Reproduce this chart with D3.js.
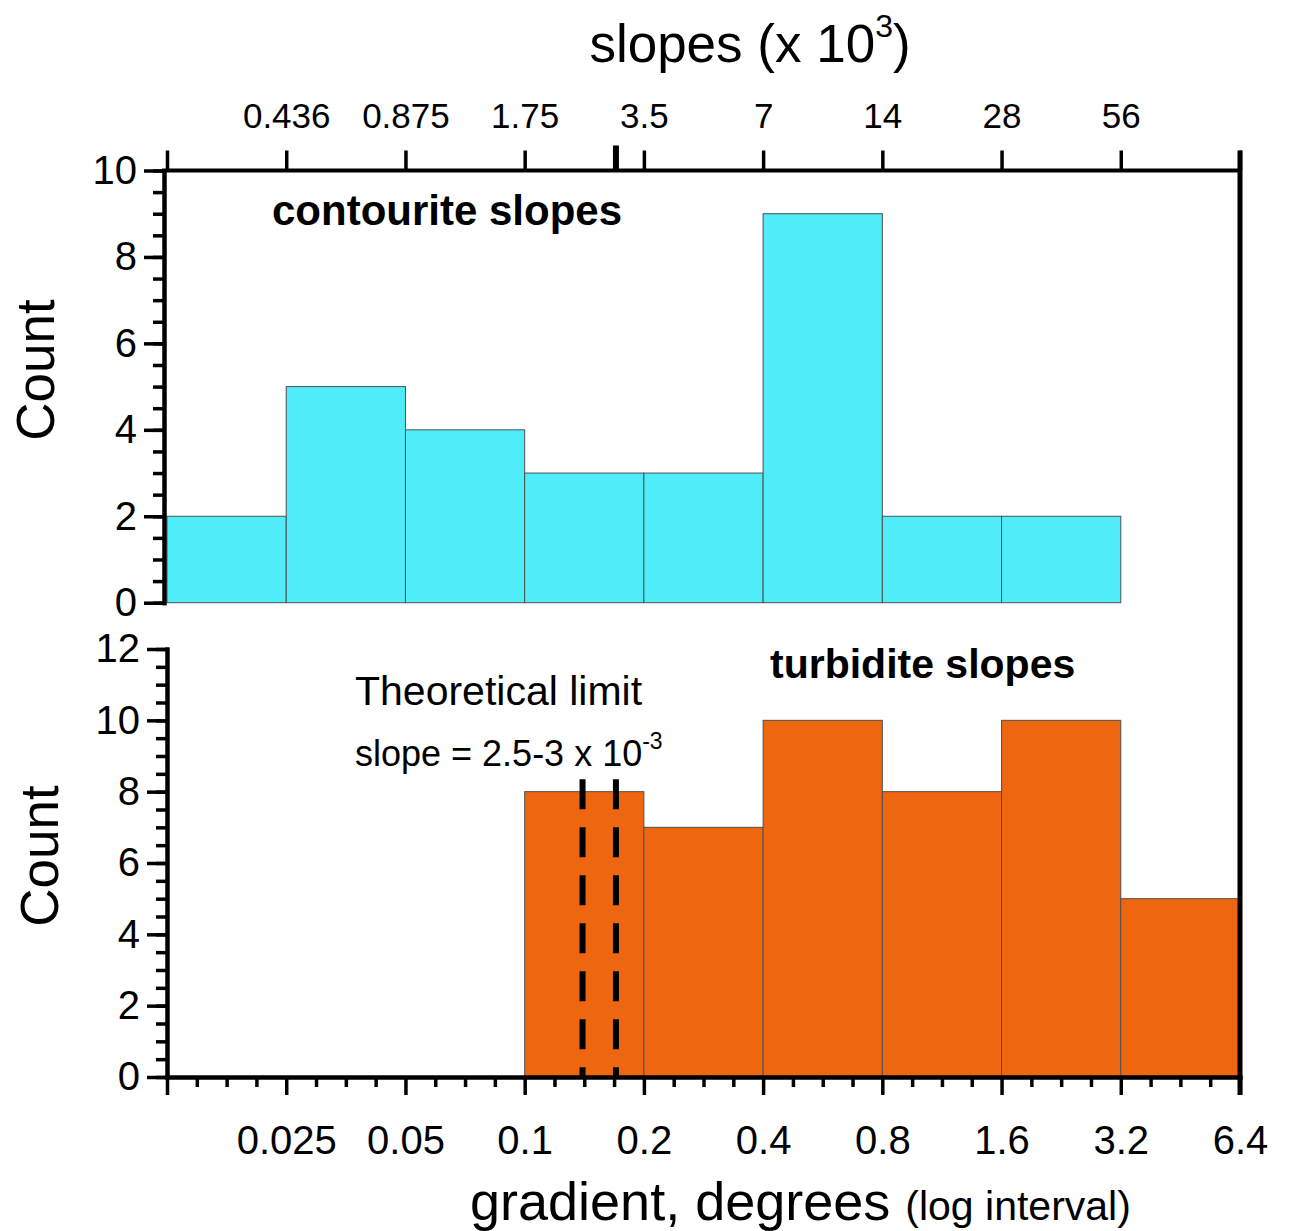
<!DOCTYPE html>
<meta charset="utf-8">
<script src="https://d3js.org/d3.v7.min.js"></script>
<style>
  body { margin: 0; background: #fff; }
  text { font-family: "Liberation Sans", Arial, sans-serif; fill: #000; }
</style>
<body>
<div id="my_dataviz"></div>

<script>
// bin edges (degrees, log2 intervals) and counts per bin
var edges = [0.0125, 0.025, 0.05, 0.1, 0.2, 0.4, 0.8, 1.6, 3.2, 6.4];
var contouriteCounts = [2, 5, 4, 3, 3, 9, 2, 2, 0];
var turbiditeCounts = [0, 0, 0, 8, 7, 10, 8, 10, 5];
var bottomLabels = ["", "0.025", "0.05", "0.1", "0.2", "0.4", "0.8", "1.6", "3.2", "6.4"];
var topLabels = ["", "0.436", "0.875", "1.75", "3.5", "7", "14", "28", "56", ""];
// theoretical limit (slope 2.5-3 x 10^-3) in degrees
var limitLines = [0.14, 0.17];
var limitTop = 8.35;

var width = 1292, height = 1231;

var svg = d3.select("#my_dataviz")
  .append("svg")
    .attr("width", width)
    .attr("height", height);

var x = d3.scaleLog().base(2)
  .domain([edges[0], edges[edges.length - 1]])
  .range([167, 1240]);

var yTop = d3.scaleLinear().domain([0, 10]).range([602.7, 170.5]);
var yBot = d3.scaleLinear().domain([0, 12]).range([1077, 649]);

// minor ticks: quarter steps of each doubling
var minorX = [];
edges.slice(0, -1).forEach(function(e) {
  for (var k = 1; k < 4; k++) minorX.push(e * Math.pow(2, k / 4));
});

function styleAxis(g, sw) {
  g.select(".domain").attr("stroke", "#000").attr("stroke-width", sw).attr("stroke-linecap", "square");
  g.selectAll(".tick line").attr("stroke", "#000").attr("stroke-width", 3.5);
}

// ---- bars
function bars(counts, y, fill) {
  var data = counts.map(function(c, i) { return {x0: edges[i], x1: edges[i + 1], c: c}; })
    .filter(function(d) { return d.c > 0; });
  svg.append("g").selectAll("rect")
    .data(data).enter().append("rect")
      .attr("x", function(d) { return x(d.x0); })
      .attr("width", function(d) { return x(d.x1) - x(d.x0); })
      .attr("y", function(d) { return y(d.c); })
      .attr("height", function(d) { return y(0) - y(d.c); })
      .attr("fill", fill)
      .attr("stroke", "#505050")
      .attr("stroke-width", 1);
}
bars(contouriteCounts, yTop, "#4FECFA");
bars(turbiditeCounts, yBot, "#EF6610");

// ---- dashed limit lines
svg.append("g").selectAll("line")
  .data(limitLines).enter().append("line")
    .attr("x1", function(d) { return x(d); })
    .attr("x2", function(d) { return x(d); })
    .attr("y1", yBot(limitTop))
    .attr("y2", yBot(0))
    .attr("stroke", "#000")
    .attr("stroke-width", 6)
    .attr("stroke-dasharray", "30,18");

// ---- left axes
function leftAxis(y, xpos, max) {
  var g = svg.append("g").attr("transform", "translate(" + xpos + ",0)");
  g.append("g")
    .call(d3.axisLeft(y).tickValues(d3.range(0, max + 0.01, 0.5)).tickSize(11).tickSizeOuter(0).tickFormat(""))
    .call(function(a) { styleAxis(a, 4); });
  g.append("g")
    .call(d3.axisLeft(y).tickValues(d3.range(0, max + 0.01, 2)).tickSize(20).tickSizeOuter(0).tickPadding(7))
    .call(function(a) {
      styleAxis(a, 4);
      a.selectAll("text").attr("font-size", 40).attr("font-family", "Liberation Sans, Arial, sans-serif");
    });
}
leftAxis(yTop, 164, 10);
leftAxis(yBot, 167, 12);

// ---- bottom axis
var gb = svg.append("g").attr("transform", "translate(0," + yBot(0) + ")");
gb.append("g")
  .call(d3.axisBottom(x).tickValues(minorX).tickSize(10).tickSizeOuter(0).tickFormat(""))
  .call(function(a) { styleAxis(a, 4); });
gb.append("g")
  .call(d3.axisBottom(x).tickValues(edges).tickSize(18).tickSizeOuter(0).tickPadding(31)
    .tickFormat(function(d, i) { return bottomLabels[i]; }))
  .call(function(a) {
    styleAxis(a, 4);
    a.selectAll("text").attr("font-size", 40).attr("font-family", "Liberation Sans, Arial, sans-serif");
  });

// ---- top axis (slopes x 10^3)
var gt = svg.append("g").attr("transform", "translate(0," + yTop(10) + ")");
gt.call(d3.axisTop(x).tickValues(edges).tickSize(20).tickSizeOuter(0).tickPadding(23)
    .tickFormat(function(d, i) { return topLabels[i]; }))
  .call(function(a) {
    styleAxis(a, 4);
    a.select(".domain").attr("d", "M" + 164 + ",0H" + x(edges[edges.length - 1]));
    a.selectAll("text").attr("font-size", 35).attr("font-family", "Liberation Sans, Arial, sans-serif");
  });
// heavier tick marking the theoretical limit
gt.append("line")
  .attr("x1", x(limitLines[1])).attr("x2", x(limitLines[1]))
  .attr("y1", 0).attr("y2", -25)
  .attr("stroke", "#000").attr("stroke-width", 6);

// right frame line across both panels
svg.append("line")
  .attr("x1", x(edges[edges.length - 1])).attr("x2", x(edges[edges.length - 1]))
  .attr("y1", yTop(10) - 20).attr("y2", yBot(0) + 18)
  .attr("stroke", "#000").attr("stroke-width", 5);

// ---- titles and annotations
var title = svg.append("text").attr("x", 750).attr("y", 62).attr("text-anchor", "middle").attr("font-size", 53);
title.append("tspan").text("slopes (x 10");
title.append("tspan").attr("font-size", 32).attr("dy", -25).text("3");
title.append("tspan").attr("dy", 25).text(")");

var xt = svg.append("text").attr("x", 470).attr("y", 1220).attr("font-size", 54);
xt.append("tspan").text("gradient, degrees ");
xt.append("tspan").attr("font-size", 41).text("(log interval)");

svg.append("text").attr("transform", "translate(54,370) rotate(-90)")
  .attr("text-anchor", "middle").attr("font-size", 53).text("Count");
svg.append("text").attr("transform", "translate(58,856) rotate(-90)")
  .attr("text-anchor", "middle").attr("font-size", 53).text("Count");

svg.append("text").attr("x", 272).attr("y", 225).attr("font-size", 42)
  .attr("font-weight", "bold").text("contourite slopes");
svg.append("text").attr("x", 770).attr("y", 678).attr("font-size", 41)
  .attr("font-weight", "bold").text("turbidite slopes");

svg.append("text").attr("x", 355).attr("y", 705).attr("font-size", 41).text("Theoretical limit");
var sl = svg.append("text").attr("x", 355).attr("y", 766).attr("font-size", 36);
sl.append("tspan").text("slope = 2.5-3 x 10");
sl.append("tspan").attr("font-size", 23).attr("dy", -17).text("-3");
</script>
</body>
